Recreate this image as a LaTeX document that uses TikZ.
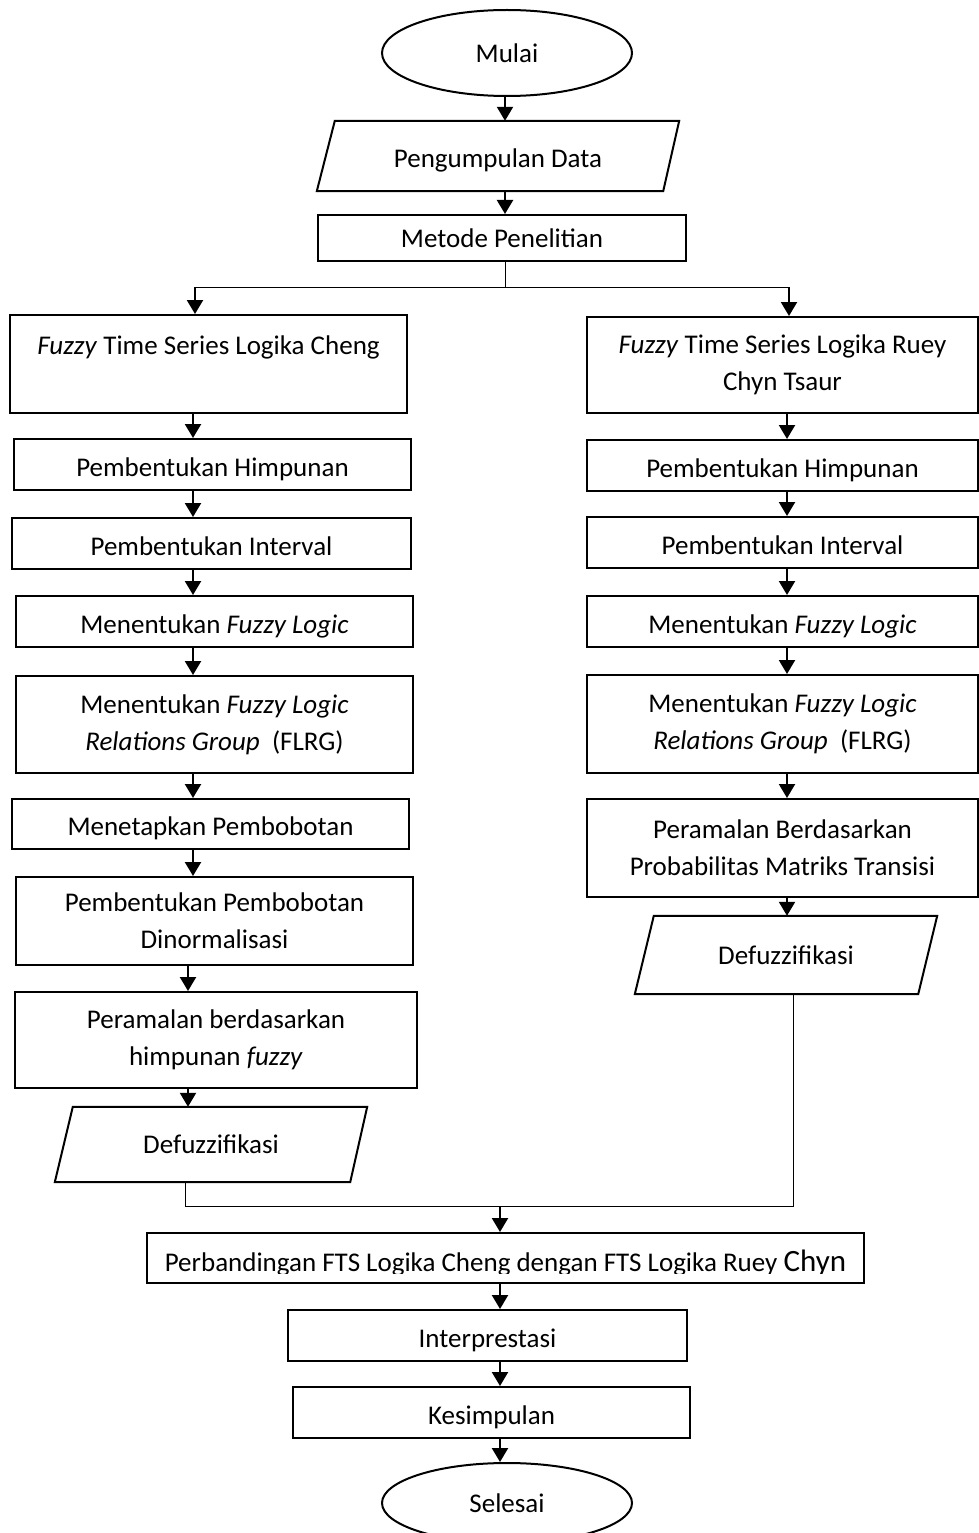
\documentclass[tikz,border=0pt]{standalone}
\usepackage{fontspec}
\setmainfont{Carlito}
\usetikzlibrary{shapes.geometric,arrows.meta}

\newcommand{\fs}{\fontsize{27}{37}\selectfont}

\tikzset{
  kotak/.style={draw, line width=2pt, align=center, inner sep=0pt, font=\fs},
  satu/.style={text height=23pt, text depth=0pt},
  jajar/.style={inner sep=0pt, font=\fs},
  tepi/.style={line width=2pt, line join=miter},
  elips/.style={draw, line width=2pt, ellipse, inner sep=0pt, font=\fs},
  panah/.style={line width=2.2pt, -{Triangle[width=16pt,length=14pt]}},
  garis/.style={line width=1pt},
}

\begin{document}
\begin{tikzpicture}[x=1pt, y=-1pt]
  \useasboundingbox (0,0) rectangle (979,1533);

  % bagian atas
  \node[elips, minimum width=250, minimum height=86] (mulai) at (507,53) {Mulai};
  \node[jajar, satu, minimum width=362, minimum height=70] (data) at (498,156) {Pengumpulan Data};
  \draw[tepi] ([xshift=18pt]data.north west) -- (data.north east)
    -- ([xshift=-16pt]data.south east) -- (data.south west) -- cycle;
  \node[kotak, minimum width=368, minimum height=46] (metode) at (502,238) {Metode Penelitian};

  % kolom kiri: Cheng
  \node[kotak, minimum width=397, minimum height=98] (ftsc) at (208.5,364) {\textit{Fuzzy} Time Series Logika Cheng\\~};
  \node[kotak, satu, minimum width=397, minimum height=51] (himL) at (212.5,464.5) {Pembentukan Himpunan};
  \node[kotak, satu, minimum width=399, minimum height=51] (intL) at (211.5,543.5) {Pembentukan Interval};
  \node[kotak, satu, minimum width=397, minimum height=51] (flL) at (214.5,621.5) {Menentukan \textit{Fuzzy Logic}};
  \node[kotak, minimum width=397, minimum height=97] (flrgL) at (214.5,724.5) {Menentukan \textit{Fuzzy Logic}\\\textit{Relations Group}\ \ (FLRG)};
  \node[kotak, satu, minimum width=397, minimum height=50] (tetL) at (210.5,824) {Menetapkan Pembobotan};
  \node[kotak, minimum width=397, minimum height=88] (normL) at (214.5,921) {Pembentukan Pembobotan\\Dinormalisasi};
  \node[kotak, minimum width=402, minimum height=96] (ramL) at (216,1040) {Peramalan berdasarkan\\himpunan \textit{fuzzy}};
  \node[jajar, minimum width=312, minimum height=75] (defL) at (211,1144.5) {Defuzzifikasi};
  \draw[tepi] ([xshift=18pt]defL.north west) -- (defL.north east)
    -- ([xshift=-17pt]defL.south east) -- (defL.south west) -- cycle;

  % kolom kanan: Ruey Chyn Tsaur
  \node[kotak, minimum width=391, minimum height=96] (ftsr) at (782.5,365) {\textit{Fuzzy} Time Series Logika Ruey\\Chyn Tsaur};
  \node[kotak, satu, minimum width=391, minimum height=51] (himR) at (782.5,465.5) {Pembentukan Himpunan};
  \node[kotak, satu, minimum width=391, minimum height=51] (intR) at (782.5,542.5) {Pembentukan Interval};
  \node[kotak, satu, minimum width=391, minimum height=51] (flR) at (782.5,621.5) {Menentukan \textit{Fuzzy Logic}};
  \node[kotak, minimum width=391, minimum height=98] (flrgR) at (782.5,724) {Menentukan \textit{Fuzzy Logic}\\\textit{Relations Group}\ \ (FLRG)};
  \node[kotak, minimum width=391, minimum height=98] (ramR) at (782.5,848) {Peramalan Berdasarkan\\Probabilitas Matriks Transisi};
  \node[jajar, minimum width=302, minimum height=78] (defR) at (786,955) {Defuzzifikasi};
  \draw[tepi] ([xshift=19pt]defR.north west) -- (defR.north east)
    -- ([xshift=-19pt]defR.south east) -- (defR.south west) -- cycle;

  % bagian bawah (teks terpotong di garis bawah)
  \node[kotak, minimum width=717, minimum height=50,
        path picture={
          \clip (path picture bounding box.north west) rectangle ([yshift=10pt]path picture bounding box.south east);
          \node[anchor=base, font=\fs] at ([yshift=12pt]path picture bounding box.south)
            {Perbandingan FTS Logika Cheng dengan FTS Logika Ruey {\fontsize{31}{31}\selectfont Chyn}};}] (banding) at (505.5,1258) {};
  \node[kotak, satu, minimum width=399, minimum height=51] (interp) at (487.5,1335.5) {Interprestasi};
  \node[kotak, satu, minimum width=397, minimum height=51] (simpul) at (491.5,1412.5) {Kesimpulan};
  \node[elips, minimum width=250, minimum height=80] (selesai) at (507,1503) {Selesai};

  % titik bantu untuk garis
  \coordinate (kT) at (505,0);
  \coordinate (kB) at (500,0);
  \coordinate (kL) at (193,0);
  \coordinate (kL2) at (188,0);
  \coordinate (kR) at (787,0);
  \coordinate (cabang) at (505,287);
  \coordinate (kiri) at (195,287);
  \coordinate (kanan) at (789,287);
  \coordinate (gabL) at (185,1206);
  \coordinate (gabR) at (793,1206);
  \coordinate (gab) at (500,1206);

  % panah atas
  \draw[panah] (mulai.south -| kT) -- (data.north -| kT);
  \draw[panah] (data.south -| kT) -- (metode.north -| kT);
  \draw[garis] (metode.south -| cabang) -- (cabang);
  \draw[garis] (kiri) -- (kanan);
  \draw[panah] (kiri) -- (kiri |- ftsc.north);
  \draw[panah] (kanan) -- (kanan |- ftsr.north);

  % panah kolom kiri
  \draw[panah] (ftsc.south -| kL) -- (himL.north -| kL);
  \draw[panah] (himL.south -| kL) -- (intL.north -| kL);
  \draw[panah] (intL.south -| kL) -- (flL.north -| kL);
  \draw[panah] (flL.south -| kL) -- (flrgL.north -| kL);
  \draw[panah] (flrgL.south -| kL) -- (tetL.north -| kL);
  \draw[panah] (tetL.south -| kL) -- (normL.north -| kL);
  \draw[panah] (normL.south -| kL2) -- (ramL.north -| kL2);
  \draw[panah] (ramL.south -| kL2) -- (defL.north -| kL2);

  % panah kolom kanan
  \draw[panah] (ftsr.south -| kR) -- (himR.north -| kR);
  \draw[panah] (himR.south -| kR) -- (intR.north -| kR);
  \draw[panah] (intR.south -| kR) -- (flR.north -| kR);
  \draw[panah] (flR.south -| kR) -- (flrgR.north -| kR);
  \draw[panah] (flrgR.south -| kR) -- (ramR.north -| kR);
  \draw[panah] (ramR.south -| kR) -- (defR.north -| kR);

  % gabungan
  \draw[garis] (gabL |- defL.south) -- (gabL) -- (gabR) -- (gabR |- defR.south);
  \draw[panah] (gab) -- (gab |- banding.north);
  \draw[panah] (banding.south -| kB) -- (interp.north -| kB);
  \draw[panah] (interp.south -| kB) -- (simpul.north -| kB);
  \draw[panah] (simpul.south -| kB) -- (selesai.north -| kB);
\end{tikzpicture}
\end{document}
